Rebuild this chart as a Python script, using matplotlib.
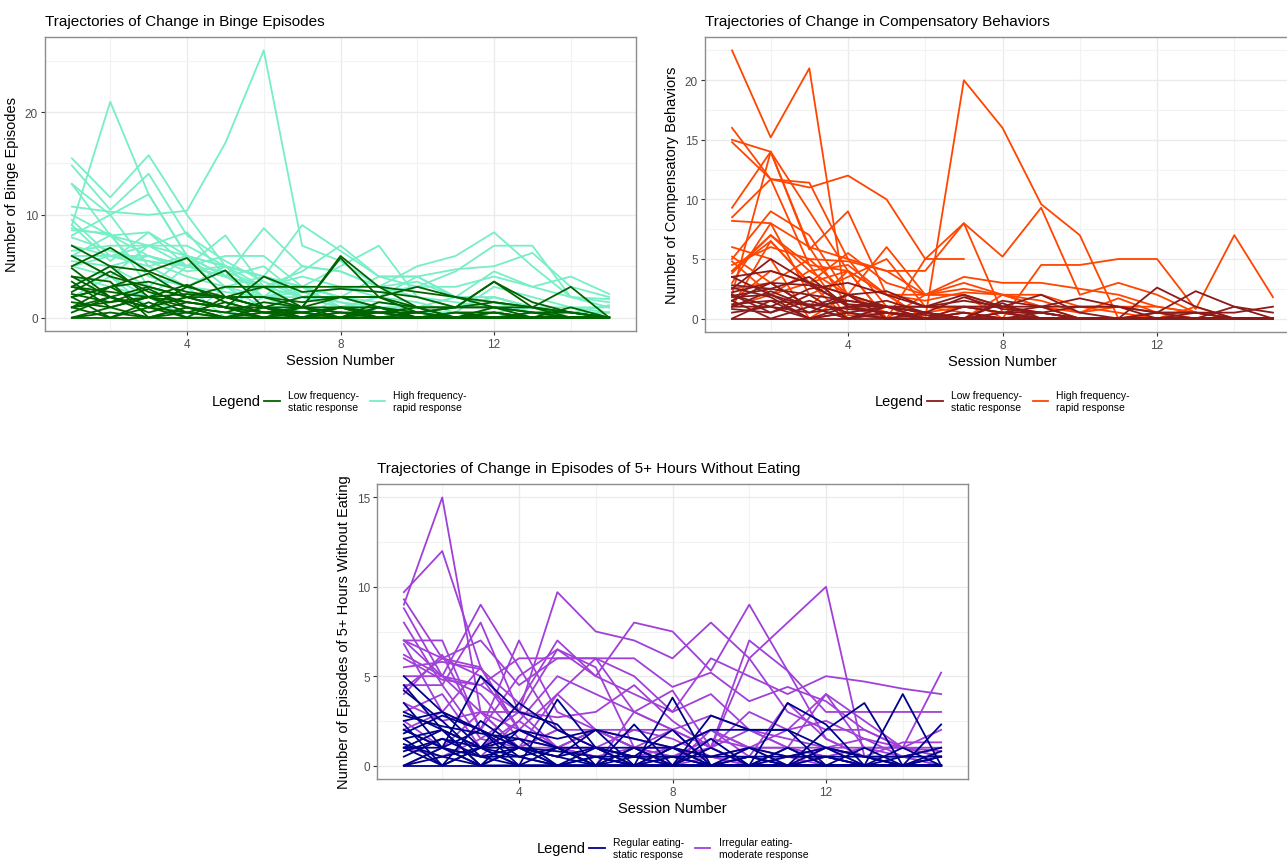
import numpy as np
import matplotlib
matplotlib.use("Agg")
import matplotlib.pyplot as plt
from matplotlib.lines import Line2D
from matplotlib.ticker import MultipleLocator

plt.rcParams['font.family'] = ['Liberation Sans', 'DejaVu Sans']

sessions = list(range(1, 16))
nan = np.nan

# ---- Binge episodes ----
binge_high = [
    [15.5, 11.7, 15.8, 10.0, 5.0, 3.0, 2.0, 1.0, 1.0, 0.5, 0.5, 0.0, 0.0, 0.0, 0.0],
    [14.8, 10.5, 14.0, 8.0, 5.5, 3.5, 2.0, 1.5, 0.5, 0.0, 0.5, 0.0, 0.0, 0.0, 0.0],
    [9.0, 21.0, 12.0, 6.0, 4.0, 2.0, 3.0, 1.0, 2.0, 1.0, 0.0, 0.0, 0.0, 0.0, 0.0],
    [10.8, 10.3, 10.0, 10.4, 17.0, 26.0, 7.0, 5.5, 3.0, 2.0, 1.5, 1.0, 0.5, 0.5, 0.5],
    [13.0, 10.0, 12.0, 6.0, 4.0, 3.0, 3.0, 1.0, 1.0, 0.0, 0.0, 0.0, 0.0, 0.0, 0.0],
    [13.0, 8.0, 8.3, 6.0, 5.0, 4.0, 3.0, 2.0, 1.0, 1.0, 0.0, 0.0, 0.0, 0.0, 0.0],
    [10.0, 8.0, 7.0, 8.3, 4.0, 8.7, 5.0, 4.5, 3.0, 3.5, 2.0, 2.0, 1.0, 1.0, 0.5],
    [9.5, 6.0, 7.0, 7.0, 5.0, 4.0, 9.0, 6.5, 4.0, 4.0, 2.0, 1.0, 1.0, 0.0, 0.0],
    [9.0, 5.5, 8.3, 5.0, 8.0, 3.0, 4.5, 7.0, 4.0, 4.0, 2.0, 1.5, 0.5, 0.0, 0.0],
    [8.7, 8.0, 6.0, 5.0, 6.0, 6.0, 3.0, 5.0, 7.0, 2.0, 1.0, 2.0, 1.0, 0.0, 0.5],
    [8.0, 10.0, 5.0, 3.0, 5.0, 2.0, 5.0, 4.5, 3.0, 5.0, 6.0, 8.3, 5.0, 2.0, 1.5],
    [7.8, 6.5, 5.5, 4.0, 3.0, 2.0, 2.0, 3.0, 2.5, 3.0, 4.5, 7.0, 7.0, 2.0, 1.0],
    [7.0, 6.0, 6.0, 5.0, 4.0, 3.0, 4.0, 3.0, 2.0, 4.0, 4.7, 5.0, 6.3, 3.0, 2.0],
    [6.5, 7.0, 7.0, 6.0, 5.0, 4.0, 3.0, 2.0, 4.0, 3.0, 3.0, 4.0, 3.0, 4.0, 2.3],
    [6.0, 6.0, 5.5, 5.0, 4.0, 3.0, 3.0, 2.0, 1.5, 1.0, 2.0, 4.5, 3.0, 2.0, 1.8],
    [6.0, 8.0, 4.0, 3.0, 2.5, 2.0, 1.0, 0.5, 0.5, 0.0, 0.5, 3.0, 2.0, 1.0, 1.0],
    [5.5, 5.0, 6.0, 4.5, 5.0, 2.0, 2.5, 1.5, 1.0, 0.5, 1.0, 2.0, 1.0, 0.5, 1.2],
    [5.0, 6.0, 5.0, 6.0, 3.0, 4.0, 2.0, 1.0, 2.0, 1.5, 0.5, 0.5, 1.0, 0.5, 0.0],
    [5.0, 4.0, 7.0, 5.0, 4.5, 3.0, 2.0, 2.0, 1.0, 1.0, 0.0, 0.5, 0.0, 0.0, 0.0],
    [4.0, 3.0, 2.0, 5.0, 4.0, 5.0, 2.0, 2.0, 1.0, 0.5, 0.5, 0.0, 0.5, 0.0, 0.0],
    [3.0, 5.0, 3.0, 2.0, 1.0, 3.0, 1.0, 0.0, 0.5, 0.0, 0.0, 1.0, 0.0, 0.5, 0.0],
    [2.0, 4.0, 1.0, 3.0, 0.0, 2.0, 0.5, 1.0, 0.0, 0.5, 0.0, 0.0, 0.0, 0.0, 0.0],
    [6.0, 4.0, 2.0, 0.0, 3.0, 1.0, 1.0, 0.0, 1.0, 0.0, 0.0, 0.5, 0.0, 0.0, 0.0],
    [8.5, 8.2, 3.0, 6.0, 2.0, 1.0, 0.0, 2.0, 1.0, 0.5, 0.0, 0.0, 0.5, 0.0, 0.0],
]
binge_low = [
    [7.0, 5.0, 2.0, 1.0, 0.0, 1.0, 0.0, 0.0, 0.0, 0.0, 0.0, 0.0, 0.0, 0.0, 0.0],
    [5.0, 6.8, 4.5, 3.0, 2.0, 1.0, 0.5, 0.0, 1.0, 0.0, 0.0, 0.0, 0.0, 0.0, 0.0],
    [3.0, 5.0, 4.5, 5.8, 2.0, 2.0, 1.0, 6.0, 3.0, 1.0, 0.0, 0.0, 0.0, 0.0, 0.0],
    [4.0, 2.0, 1.0, 3.0, 4.6, 1.0, 1.0, 5.8, 2.0, 0.5, 0.0, 1.0, 0.0, 0.0, 0.0],
    [2.0, 3.0, 4.3, 2.0, 3.0, 3.0, 3.0, 3.0, 3.0, 2.5, 2.0, 1.5, 1.0, 0.5, 0.0],
    [1.0, 3.0, 3.5, 2.5, 2.0, 3.0, 1.0, 2.0, 2.0, 3.0, 2.0, 1.0, 1.0, 0.5, 0.0],
    [3.5, 1.0, 2.0, 1.5, 1.0, 4.0, 2.5, 2.8, 2.5, 2.0, 1.0, 3.5, 1.5, 0.5, 0.0],
    [1.0, 0.0, 1.0, 2.0, 1.0, 0.0, 1.0, 1.0, 0.5, 1.0, 1.0, 3.5, 1.0, 3.0, 0.0],
    [6.0, 4.0, 3.0, 2.0, 1.0, 1.0, 0.5, 1.0, 1.0, 0.0, 0.5, 0.5, 0.0, 1.0, 0.0],
    [4.0, 3.5, 0.0, 1.0, 0.5, 0.0, 0.0, 0.0, 1.5, 1.0, 0.0, 0.5, 0.0, 0.0, 0.0],
    [3.0, 2.0, 3.0, 2.0, 2.0, 1.0, 2.0, 2.0, 1.0, 0.5, 1.0, 1.0, 0.5, 0.0, 0.0],
    [2.5, 4.5, 2.5, 1.5, 1.0, 0.5, 0.0, 0.5, 0.0, 0.0, 0.0, 0.0, 0.0, 0.0, 0.0],
    [1.5, 1.0, 2.0, 3.2, 1.5, 0.5, 1.0, 0.0, 0.5, 0.5, 0.0, 0.0, 0.5, 0.0, 0.0],
    [2.0, 0.0, 1.5, 0.0, 2.0, 1.0, 0.0, 1.0, 0.0, 0.0, 0.0, 0.0, 0.0, 0.0, 0.0],
    [0.0, 1.0, 0.0, 1.0, 0.0, 0.5, 0.0, 0.0, 1.0, 0.0, 0.0, 0.0, 0.0, 0.0, 0.0],
    [0.0, 0.0, 0.0, 0.0, 0.0, 0.0, 0.0, 0.0, 0.0, 0.0, 0.0, 0.0, 0.0, 0.0, 0.0],
    [0.5, 2.0, 1.0, 0.0, 0.0, 1.0, 0.0, 0.0, 0.0, 0.0, 0.5, 0.0, 0.0, 0.0, 0.0],
    [3.0, 2.5, 2.0, 2.3, 2.0, 2.0, 1.5, 2.0, 2.0, 1.0, 1.0, 1.0, 0.5, 0.5, 0.0],
    [2.3, 1.5, 2.8, 1.0, 0.5, 1.5, 1.0, 0.5, 0.5, 0.0, 0.0, 0.0, 0.0, 0.0, 0.0],
    [1.0, 2.0, 0.5, 1.5, 1.0, 0.5, 0.5, 1.0, 0.0, 0.5, 1.0, 1.5, 1.0, 0.0, 0.0],
    [4.8, 2.0, 1.0, 2.0, 1.0, 0.0, 0.5, 0.0, 0.0, 0.0, 0.0, 0.0, 0.0, 0.0, 0.0],
    [0.0, 0.5, 0.0, 0.5, 0.0, 0.0, 0.0, 0.5, 0.0, 0.0, 0.0, 0.5, 0.0, 0.0, 0.0],
    [2.0, 3.0, 1.0, 0.5, 0.0, 0.0, 0.0, 0.0, 0.0, 0.0, 0.0, 0.0, 0.0, 0.0, 0.0],
    [1.0, 1.5, 2.0, 0.5, 1.5, 0.5, 0.0, 1.0, 0.5, 0.0, 0.0, 0.0, 0.0, 0.0, 0.0],
]

# ---- Compensatory behaviors ----
comp_high = [
    [22.5, 15.2, 21.0, 0.3, 0.0, 0.0, 0.0, 0.0, 0.0, 0.0, 0.0, 0.0, 0.0, 0.0, 0.0],
    [16.0, 11.7, 11.4, 5.0, 1.0, 0.0, 1.0, 0.5, 0.0, 0.0, 0.0, 0.0, 0.0, 0.0, 0.0],
    [15.0, 14.0, 9.0, 4.0, 0.0, 0.0, 0.5, 0.0, 0.0, 0.0, 0.0, 0.0, 0.0, 0.0, 0.0],
    [14.8, 11.7, 4.5, 0.0, 1.0, 0.0, 0.0, 0.0, 0.0, 0.0, 0.0, 0.0, 0.0, 0.0, 0.0],
    [9.3, 14.0, 5.8, 9.0, 2.0, 0.0, 0.0, 0.0, 0.0, 0.0, 0.0, 0.0, 0.0, 0.0, 0.0],
    [8.5, 11.7, 11.0, 12.0, 10.0, 5.0, 5.0, nan, nan, nan, nan, nan, nan, nan, nan],
    [8.2, 8.0, 6.0, 5.0, 4.0, 4.0, 8.0, 0.5, 0.0, 0.0, 0.0, 0.0, 0.0, 0.0, 0.0],
    [4.0, 7.0, 4.5, 4.0, 2.0, 0.0, 20.0, 16.0, 9.6, 7.0, 0.0, 0.0, 0.0, 0.0, 0.0],
    [5.0, 9.0, 7.0, 2.0, 0.0, 5.0, 8.0, 5.2, 9.3, 2.0, 3.0, 2.0, 0.5, 0.0, 0.0],
    [4.5, 6.0, 5.0, 4.8, 4.0, 2.0, 3.5, 3.0, 3.0, 2.5, 2.0, 1.0, 0.5, 0.0, 0.0],
    [4.0, 6.5, 3.0, 5.5, 3.0, 2.0, 2.0, 0.0, 4.5, 4.5, 5.0, 5.0, 0.8, 7.0, 1.8],
    [3.8, 7.0, 4.0, 2.0, 6.0, 2.0, 3.0, 2.0, 2.0, 1.0, 0.5, 0.0, 0.0, 0.0, 0.0],
    [5.2, 3.0, 1.0, 4.0, 0.0, 2.0, 2.5, 2.0, 1.0, 0.5, 1.7, 0.5, 0.0, 0.0, 0.0],
    [3.0, 8.0, 2.0, 3.5, 5.0, 1.0, 0.5, 0.0, 0.0, 0.0, 0.0, 0.0, 0.0, 0.0, 0.0],
    [2.0, 14.0, 6.0, 1.0, 0.0, 0.0, 0.0, 0.0, 0.0, 0.0, 0.0, 0.0, 0.0, 0.0, 0.0],
    [1.0, 6.5, 3.0, 0.0, 0.5, 0.0, 0.0, 0.0, 0.0, 0.0, 0.0, 0.0, 0.0, 0.0, 0.0],
    [1.5, 4.0, 3.0, 2.0, 1.0, 0.5, 1.0, 1.0, 0.0, 0.0, 0.0, 0.0, 0.0, 0.0, 0.0],
    [6.0, 5.0, 0.0, 2.0, 1.0, 0.0, 0.0, 0.0, 0.0, 0.0, 0.0, 0.0, 0.0, 0.0, 0.0],
    [2.5, 3.0, 5.0, 2.0, 0.5, 0.0, 0.0, 2.0, 1.0, 0.0, 0.0, 0.0, 1.0, 0.0, 0.0],
    [1.0, 2.0, 4.0, 4.5, 2.0, 1.5, 2.2, 2.0, 1.5, 0.5, 1.0, 1.0, 0.5, 0.0, 0.0],
    [4.8, 2.0, 3.0, 4.0, 2.0, 2.0, 2.0, 1.0, 0.5, 0.0, 0.0, 0.0, 0.0, 0.0, 0.0],
]
comp_low = [
    [3.5, 4.0, 3.0, 1.0, 0.5, 0.0, 1.0, 0.5, 0.0, 0.0, 0.0, 0.0, 0.0, 0.0, 0.0],
    [2.5, 5.0, 3.0, 2.0, 1.0, 0.5, 0.0, 1.5, 1.0, 1.7, 1.0, 0.5, 0.5, 0.0, 0.0],
    [2.8, 2.5, 3.5, 1.0, 0.5, 0.0, 0.5, 0.0, 0.0, 0.0, 0.0, 0.0, 0.0, 0.0, 0.0],
    [2.0, 1.0, 2.5, 3.0, 2.0, 1.0, 2.0, 1.0, 1.0, 0.0, 0.0, 2.6, 1.0, 0.0, 0.0],
    [1.8, 2.0, 0.5, 2.0, 2.3, 1.0, 1.5, 1.0, 2.0, 0.5, 0.0, 0.5, 2.3, 1.0, 0.0],
    [1.0, 2.3, 1.0, 1.5, 1.0, 1.0, 1.0, 0.5, 0.5, 1.0, 1.0, 0.5, 0.5, 0.5, 1.0],
    [0.0, 0.0, 0.0, 0.0, 0.0, 0.0, 0.0, 0.0, 0.0, 0.0, 0.0, 0.0, 0.0, 0.0, 0.0],
    [0.5, 1.0, 0.0, 0.5, 0.0, 0.0, 0.0, 0.0, 0.0, 0.0, 0.0, 0.0, 0.0, 0.0, 0.0],
    [2.2, 3.0, 2.8, 1.2, 1.0, 0.5, 0.0, 0.0, 0.5, 0.0, 0.0, 0.0, 0.0, 0.0, 0.0],
    [1.5, 0.0, 1.0, 0.0, 0.5, 0.0, 0.0, 1.3, 0.0, 0.0, 0.0, 0.0, 0.0, 0.0, 0.0],
    [1.2, 1.5, 1.2, 0.8, 0.5, 0.3, 0.0, 0.5, 0.0, 0.0, 0.0, 0.0, 0.0, 0.0, 0.0],
    [2.6, 1.8, 0.0, 1.0, 1.5, 0.5, 0.0, 0.0, 0.0, 0.0, 0.0, 0.5, 0.0, 0.0, 0.0],
    [0.8, 0.5, 1.5, 0.5, 1.0, 0.5, 1.8, 0.8, 0.5, 0.0, 0.0, 0.0, 0.0, 1.0, 0.5],
    [1.9, 2.5, 2.0, 1.5, 1.0, 1.0, 1.0, 1.0, 0.5, 0.0, 0.0, 0.0, 0.0, 0.0, 0.0],
    [3.5, 2.0, 1.0, 2.0, 0.0, 0.0, 0.0, 0.0, 0.0, 0.0, 0.0, 0.0, 0.0, 0.0, 0.0],
    [1.0, 1.0, 0.5, 1.0, 1.0, 0.5, 0.0, 0.5, 1.0, 1.0, 1.0, 0.0, 0.5, 0.0, 0.0],
    [2.0, 0.5, 2.0, 0.0, 1.0, 0.0, 0.5, 0.0, 0.0, 0.0, 0.0, 0.0, 0.0, 0.0, 0.0],
    [0.0, 1.5, 0.0, 0.5, 0.0, 0.5, 0.0, 0.0, 0.0, 0.0, 0.0, 0.0, 0.0, 0.0, 0.0],
    [1.5, 3.0, 1.0, 0.0, 0.5, 0.0, 0.0, 0.0, 0.0, 0.0, 0.0, 0.0, 0.0, 0.0, 0.0],
]

# ---- Episodes of 5+ hours without eating ----
eat_irregular = [
    [9.0, 15.0, 3.0, 1.0, 2.0, 1.0, 0.5, 0.0, 0.5, 0.0, 0.5, 0.0, 0.0, 0.0, 0.0],
    [9.7, 12.0, 5.5, 2.0, 1.0, 2.0, 1.0, 0.0, 1.0, 0.0, 0.0, 0.0, 0.0, 0.0, 0.0],
    [9.3, 6.0, 5.0, 2.0, 1.0, 2.0, 1.0, 1.0, 2.0, 1.0, 1.0, 0.5, 0.0, 0.0, 0.0],
    [8.8, 5.0, 9.0, 5.5, 2.0, 2.0, 1.0, 2.0, 0.0, 1.0, 0.0, 1.0, 0.0, 0.0, 0.0],
    [8.0, 4.5, 8.0, 3.0, 6.5, 5.0, 4.0, 3.0, 4.0, 2.0, 1.0, 1.0, 0.5, 0.5, 0.0],
    [7.0, 7.0, 2.0, 7.0, 3.0, 2.0, 1.0, 0.5, 1.0, 0.0, 0.0, 0.5, 0.0, 0.0, 0.0],
    [6.2, 5.0, 3.0, 3.0, 9.7, 7.5, 7.0, 6.0, 8.0, 6.0, 8.0, 10.0, 0.5, 0.0, 0.0],
    [7.0, 6.0, 7.0, 4.5, 6.0, 6.0, 6.0, 4.4, 5.2, 3.6, 4.4, 3.6, 2.0, 1.0, 0.5],
    [5.5, 5.8, 5.4, 3.5, 7.0, 5.0, 8.0, 7.5, 5.3, 9.0, 5.3, 1.5, 0.5, 0.0, 0.0],
    [6.0, 4.8, 4.5, 6.0, 6.0, 6.0, 5.0, 3.0, 6.0, 5.0, 4.0, 5.0, 4.7, 4.3, 4.0],
    [5.0, 5.0, 4.5, 3.0, 2.7, 3.0, 4.5, 2.5, 1.0, 7.0, 5.3, 3.0, 3.0, 3.0, 3.0],
    [4.3, 6.0, 5.5, 2.0, 4.0, 6.0, 3.0, 2.0, 2.8, 2.0, 1.0, 4.0, 1.0, 1.0, 5.2],
    [4.0, 6.2, 2.0, 5.0, 6.5, 5.5, 1.0, 0.0, 2.0, 0.5, 3.5, 1.5, 0.5, 1.3, 1.3],
    [3.0, 4.0, 1.0, 2.5, 5.0, 4.0, 3.0, 2.0, 1.0, 6.0, 3.0, 2.0, 2.0, 1.0, 1.0],
    [2.0, 3.0, 2.0, 1.0, 2.0, 1.0, 2.0, 1.5, 0.5, 1.0, 2.0, 2.5, 1.5, 1.0, 0.5],
    [6.8, 3.0, 5.5, 2.0, 1.0, 0.5, 0.0, 0.5, 0.0, 0.0, 0.0, 0.0, 0.0, 0.0, 0.0],
    [1.0, 0.5, 1.5, 1.0, 1.0, 2.0, 2.0, 2.0, 1.0, 2.0, 1.5, 1.0, 1.0, 0.5, 1.0],
    [0.0, 1.0, 0.5, 2.5, 1.0, 0.5, 1.0, 0.5, 1.5, 1.0, 0.5, 1.0, 1.5, 0.5, 0.0],
    [3.5, 2.5, 3.0, 1.0, 4.0, 2.0, 1.5, 1.0, 2.0, 1.0, 1.0, 0.5, 1.0, 1.0, 0.8],
    [2.5, 1.0, 3.0, 2.0, 1.0, 0.0, 3.0, 4.2, 1.0, 3.0, 2.0, 4.0, 2.5, 1.0, 2.0],
    [7.0, 5.0, 4.0, 1.5, 1.0, 1.0, 0.5, 1.0, 0.5, 0.0, 0.0, 0.5, 0.0, 0.0, 0.0],
    [4.5, 4.5, 1.5, 3.0, 1.0, 0.5, 0.0, 0.0, 0.0, 0.5, 0.0, 0.0, 0.0, 0.0, 0.0],
]
eat_regular = [
    [4.5, 2.0, 0.0, 1.0, 0.5, 0.0, 0.0, 0.0, 0.0, 0.0, 0.0, 0.0, 0.0, 0.0, 0.0],
    [5.0, 3.0, 1.0, 3.5, 2.0, 1.0, 0.5, 0.0, 0.0, 0.0, 0.0, 0.0, 0.0, 0.0, 0.0],
    [4.2, 2.5, 0.5, 0.0, 0.0, 0.0, 0.0, 0.0, 0.0, 0.0, 0.0, 0.0, 0.0, 0.0, 0.0],
    [3.5, 1.0, 5.0, 3.0, 2.3, 0.0, 1.0, 0.0, 0.0, 0.0, 0.0, 0.0, 0.0, 0.0, 0.0],
    [2.5, 3.0, 2.0, 0.0, 3.7, 1.0, 0.0, 1.0, 0.0, 0.5, 0.0, 0.0, 0.0, 0.0, 0.0],
    [2.0, 1.0, 0.0, 2.0, 1.0, 0.0, 2.3, 0.0, 2.8, 2.0, 2.0, 0.0, 0.0, 0.0, 0.0],
    [1.5, 0.0, 2.5, 1.0, 0.5, 2.0, 0.0, 3.8, 0.0, 0.0, 3.5, 2.3, 0.0, 0.0, 0.0],
    [1.0, 2.0, 1.0, 0.5, 0.0, 0.0, 0.0, 0.0, 0.0, 0.0, 0.0, 2.0, 3.5, 0.0, 0.0],
    [1.2, 0.5, 0.0, 0.0, 0.0, 0.0, 0.0, 0.0, 1.5, 0.0, 1.0, 0.0, 0.0, 4.0, 0.0],
    [0.8, 1.5, 1.0, 1.0, 0.0, 0.5, 0.0, 0.0, 0.0, 0.0, 0.0, 0.0, 0.0, 0.0, 2.3],
    [2.8, 2.2, 1.8, 1.5, 1.0, 1.0, 1.0, 1.0, 0.5, 0.5, 0.5, 0.5, 0.0, 0.0, 0.8],
    [0.0, 0.0, 0.0, 0.0, 0.0, 0.0, 0.0, 0.0, 0.0, 0.0, 0.0, 0.0, 0.0, 0.0, 0.0],
    [0.0, 1.0, 0.0, 1.0, 0.0, 0.5, 0.0, 1.0, 0.0, 1.0, 0.0, 0.5, 0.0, 0.0, 0.0],
    [1.8, 2.8, 2.0, 1.0, 0.8, 0.5, 0.5, 0.5, 0.0, 0.0, 0.0, 0.0, 0.0, 0.5, 1.0],
    [1.0, 0.0, 1.0, 0.0, 1.0, 0.0, 1.0, 0.0, 1.0, 0.0, 1.0, 0.0, 1.0, 0.0, 0.5],
    [3.0, 2.0, 1.0, 2.0, 1.5, 2.0, 1.5, 1.0, 2.0, 2.0, 2.0, 1.0, 0.5, 0.0, 0.0],
    [0.5, 1.5, 0.5, 1.0, 0.5, 1.0, 0.5, 0.5, 0.5, 1.0, 0.5, 0.5, 0.5, 0.5, 0.5],
    [2.0, 1.0, 2.0, 0.5, 1.0, 0.0, 0.5, 2.0, 0.0, 0.0, 0.5, 1.0, 0.0, 1.0, 0.0],
    [1.5, 2.0, 0.0, 0.0, 0.0, 0.0, 0.0, 0.0, 0.0, 0.0, 0.0, 0.0, 0.0, 0.0, 0.0],
    [1.0, 1.0, 0.5, 0.5, 0.0, 1.0, 0.0, 0.5, 0.0, 0.5, 0.0, 1.0, 0.5, 0.0, 0.5],
    [2.3, 0.0, 1.0, 1.5, 0.0, 0.0, 0.0, 0.0, 0.0, 0.0, 0.0, 0.0, 0.0, 0.0, 0.0],
    [0.0, 0.5, 1.0, 0.0, 0.0, 0.0, 0.0, 0.0, 0.0, 0.0, 0.0, 0.0, 0.0, 0.0, 0.0],
]

panels = [
    dict(pos=[45, 38, 636, 332], title_y=22, title="Trajectories of Change in Binge Episodes",
         ylabel="Number of Binge Episodes", high=binge_high, low=binge_low,
         c_low="#006400", c_high="#76EEC6", ymax=26.0, major=10, minor=5,
         lab_low="Low frequency-\nstatic response", lab_high="High frequency-\nrapid response",
         leg_x=212, leg_y=402),
    dict(pos=[705, 38, 1300, 333], title_y=22, title="Trajectories of Change in Compensatory Behaviors",
         ylabel="Number of Compensatory Behaviors", high=comp_high, low=comp_low,
         c_low="#8B1A1A", c_high="#FF4500", ymax=22.5, major=5, minor=2.5,
         lab_low="Low frequency-\nstatic response", lab_high="High frequency-\nrapid response",
         leg_x=875, leg_y=402),
    dict(pos=[377, 485, 968, 780], title_y=469,
         title="Trajectories of Change in Episodes of 5+ Hours Without Eating",
         ylabel="Number of Episodes of 5+ Hours Without Eating", high=eat_irregular, low=eat_regular,
         c_low="#00008B", c_high="#A040D8", ymax=15.0, major=5, minor=2.5,
         lab_low="Regular eating-\nstatic response", lab_high="Irregular eating-\nmoderate response",
         leg_x=537, leg_y=849),
]

W, H = 1287, 862
fig = plt.figure(figsize=(W / 100, H / 100), dpi=100)

for p in panels:
    l, t, r, b = p["pos"]
    ax = fig.add_axes([l / W, 1 - b / H, (r - l) / W, (b - t) / H])
    for traj in p["high"]:
        ax.plot(sessions, traj, color=p["c_high"], lw=1.3)
    for traj in p["low"]:
        ax.plot(sessions, traj, color=p["c_low"], lw=1.3)

    pad = 0.05 * p["ymax"]
    ax.set_ylim(-pad, p["ymax"] + pad)
    ax.set_xlim(1 - 0.7, 15 + 0.7)
    ax.xaxis.set_major_locator(MultipleLocator(4))
    ax.xaxis.set_minor_locator(MultipleLocator(2))
    ax.yaxis.set_major_locator(MultipleLocator(p["major"]))
    ax.yaxis.set_minor_locator(MultipleLocator(p["minor"]))
    ax.grid(which="major", color="#EBEBEB", lw=1.0)
    ax.grid(which="minor", color="#F2F2F2", lw=0.8)
    ax.set_axisbelow(True)
    ax.tick_params(which="minor", length=0)
    ax.tick_params(which="major", length=3, width=0.8, color="#333333",
                   labelsize=8.5, labelcolor="#4D4D4D", pad=2)
    for s in ax.spines.values():
        s.set_color("#8C8C8C")
        s.set_linewidth(1.0)
    ax.set_xlabel("Session Number", fontsize=10.5, labelpad=2)
    ax.set_ylabel(p["ylabel"], fontsize=10.5, labelpad=4)

    fig.text(l / W, 1 - p["title_y"] / H, p["title"], fontsize=11, ha="left", va="center")

    # legend below the panel
    fig.text(p["leg_x"] / W, 1 - p["leg_y"] / H, "Legend", fontsize=10.5, ha="left", va="center")
    handles = [Line2D([], [], color=p["c_low"], lw=1.3), Line2D([], [], color=p["c_high"], lw=1.3)]
    fig.legend(handles, [p["lab_low"], p["lab_high"]], ncol=2, frameon=False,
               loc="center left", bbox_to_anchor=((p["leg_x"] + 52) / W, 1 - p["leg_y"] / H),
               fontsize=7.5, handlelength=1.5, handletextpad=0.8, columnspacing=1.0,
               borderpad=0, borderaxespad=0)

fig.savefig("out.png", dpi=100)
